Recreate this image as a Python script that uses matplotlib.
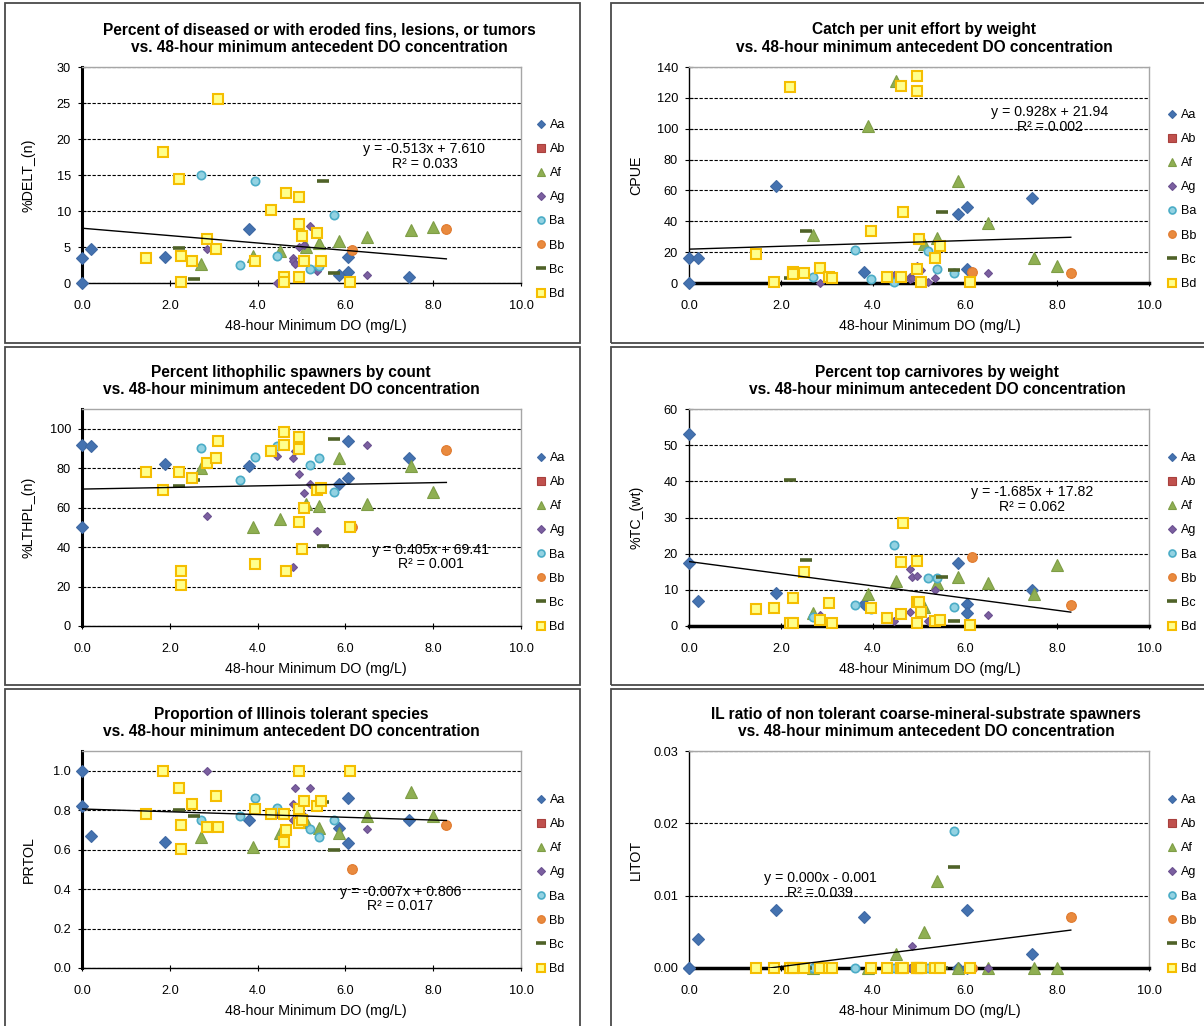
import matplotlib.pyplot as plt
from matplotlib.lines import Line2D
from matplotlib.patches import Rectangle
import numpy as np

plt.rcParams['font.family'] = ['Liberation Sans', 'DejaVu Sans']

W, H = 1204, 1026

groups = ['Aa', 'Ab', 'Af', 'Ag', 'Ba', 'Bb', 'Bc', 'Bd']

# 48-hour minimum DO (mg/L) per site group
do_x = {
    'Aa': [0.0, 0.0, 0.2, 1.9, 3.8, 5.85, 6.05, 6.05, 7.45],
    'Ab': [],
    'Af': [2.7, 3.9, 4.5, 5.1, 5.4, 5.85, 6.5, 7.5, 8.0],
    'Ag': [2.85, 4.45, 4.8, 4.8, 4.85, 4.95, 5.05, 5.2, 5.35, 6.5],
    'Ba': [2.7, 3.6, 3.95, 4.45, 5.2, 5.4, 5.75],
    'Bb': [6.15, 8.3],
    'Bc': [2.2, 2.55, 5.5, 5.75],
    'Bd': [1.45, 1.85, 2.2, 2.25, 2.25, 2.5, 2.85, 3.05, 3.1, 3.95, 4.3,
           4.6, 4.6, 4.65, 4.95, 4.95, 4.95, 5.0, 5.05, 5.35, 5.45, 6.1],
}

delt = {
    'Aa': [3.5, 0.0, 4.7, 3.6, 7.5, 1.1, 1.5, 3.6, 0.8],
    'Ab': [],
    'Af': [2.6, 3.7, 4.4, 5.0, 5.5, 5.8, 6.4, 7.4, 7.8],
    'Ag': [4.7, 0.0, 3.5, 3.1, 2.7, 5.0, 5.3, 7.9, 1.7, 1.1],
    'Ba': [15.0, 2.5, 14.2, 3.8, 2.0, 2.3, 9.4],
    'Bb': [4.6, 7.5],
    'Bc': [4.8, 0.5, 14.1, 1.4],
    'Bd': [3.5, 18.2, 14.4, 3.8, 0.1, 3.0, 6.1, 4.7, 25.5, 3.0, 10.2,
           0.9, 0.1, 12.5, 12.0, 8.2, 0.9, 6.5, 3.0, 7.0, 3.0, 0.1],
}

cpue = {
    'Aa': [16, 0, 16, 63, 7, 45, 49, 9, 55],
    'Ab': [],
    'Af': [31, 102, 131, 25, 29, 66, 39, 16, 11],
    'Ag': [0, 5, 4, 2.5, 3, 11, 8.5, 0.8, 3.3, 6.2],
    'Ba': [3.8, 21.4, 2.6, 0.9, 20.9, 8.9, 6.7],
    'Bb': [7, 6.5],
    'Bc': [3.3, 33.7, 46, 8.4],
    'Bd': [18.8, 0.5, 127, 7, 6, 6.5, 9.7, 3.8, 3.0, 33.7, 3.6,
           3.8, 127.8, 46, 134, 124.4, 9, 28.5, 0.5, 16, 24, 0.5],
}

lthpl = {
    'Aa': [92, 50, 91, 82, 81, 72, 94, 75, 85],
    'Ab': [],
    'Af': [80, 50, 54, 62, 61, 85, 62, 81, 68],
    'Ag': [56, 86, 85, 30, 88.5, 77, 67.5, 72, 48, 92],
    'Ba': [90, 74, 85.5, 91, 81.5, 85, 68],
    'Bb': [50, 89],
    'Bc': [71, 74, 40.4, 95],
    'Bd': [78, 69, 78, 28, 20.7, 75, 82.5, 85, 94, 31.6, 88.5,
           98.5, 92, 28, 96, 89.5, 52.6, 39, 60, 69, 70, 50],
}

tc_wt = {
    'Aa': [53, 17.5, 7, 9, 6, 17.5, 6, 3.5, 10],
    'Ab': [],
    'Af': [3.6, 8.8, 12.4, 5.3, 12, 13.5, 11.9, 8.8, 17],
    'Ag': [3, 1.4, 3.9, 15.7, 13.5, 13.8, 5.5, 1.4, 10, 3],
    'Ba': [2.5, 5.8, 4.6, 22.5, 13.2, 13.2, 5.3],
    'Bb': [19, 5.8],
    'Bc': [40.4, 18.2, 13.5, 1.4],
    'Bd': [4.6, 4.9, 0.9, 7.7, 0.9, 15, 1.6, 6.4, 0.9, 5.0, 2.3,
           3.3, 17.7, 28.5, 18, 6.6, 0.9, 6.6, 3.9, 1.4, 1.6, 0.3],
}

prtol = {
    'Aa': [1.0, 0.82, 0.67, 0.64, 0.75, 0.71, 0.86, 0.635, 0.75],
    'Ab': [],
    'Af': [0.665, 0.615, 0.685, 0.74, 0.71, 0.685, 0.77, 0.89, 0.77],
    'Ag': [1.0, 0.78, 0.83, 0.75, 0.91, 0.77, 0.77, 0.91, 0.84, 0.705],
    'Ba': [0.75, 0.77, 0.86, 0.81, 0.705, 0.665, 0.75],
    'Bb': [0.5, 0.725],
    'Bc': [0.80, 0.77, 0.84, 0.60],
    'Bd': [0.78, 1.0, 0.91, 0.725, 0.605, 0.83, 0.715, 0.87, 0.715, 0.805, 0.78,
           0.78, 0.64, 0.70, 1.0, 0.805, 0.735, 0.75, 0.845, 0.82, 0.845, 1.0],
}

litot = {
    'Aa': [0, 0, 0.004, 0.008, 0.007, 0, 0.008, 0, 0.002],
    'Ab': [],
    'Af': [0, 0, 0.002, 0.005, 0.012, 0, 0, 0, 0],
    'Ag': [0, 0, 0, 0, 0.003, 0, 0, 0, 0, 0],
    'Ba': [0, 0, 0, 0, 0, 0, 0.019],
    'Bb': [0, 0.007],
    'Bc': [0, 0, 0, 0.014],
    'Bd': [0] * 22,
}

# trendline coefficients as reported (litot shown rounded on chart)
slopes = [-0.513, 0.928, 0.405, -1.685, -0.007, 0.0008]
intercepts = [7.610, 21.94, 69.41, 17.82, 0.806, -0.0014]
eq_text = ['y = -0.513x + 7.610\nR² = 0.033',
           'y = 0.928x + 21.94\nR² = 0.002',
           'y = 0.405x + 69.41\nR² = 0.001',
           'y = -1.685x + 17.82\nR² = 0.062',
           'y = -0.007x + 0.806\nR² = 0.017',
           'y = 0.000x - 0.001\nR² = 0.039']

titles = [
    ['Percent of diseased or with eroded fins, lesions, or tumors',
     'vs. 48-hour minimum antecedent DO concentration'],
    ['Catch per unit effort by weight',
     'vs. 48-hour minimum antecedent DO concentration'],
    ['Percent lithophilic spawners by count',
     'vs. 48-hour minimum antecedent DO concentration'],
    ['Percent top carnivores by weight',
     'vs. 48-hour minimum antecedent DO concentration'],
    ['Proportion of Illinois tolerant species',
     'vs. 48-hour minimum antecedent DO concentration'],
    ['IL ratio of non tolerant coarse-mineral-substrate spawners',
     'vs. 48-hour minimum antecedent DO concentration'],
]
ylabels = ['%DELT_(n)', 'CPUE', '%LTHPL_(n)', '%TC_(wt)', 'PRTOL', 'LITOT']
metrics = [delt, cpue, lthpl, tc_wt, prtol, litot]
ylims = [(0, 30, 5), (0, 140, 20), (0, 110, 20), (0, 60, 10), (0, 1.1, 0.2), (0, 0.03, 0.01)]
yfmts = ['{:.0f}', '{:.0f}', '{:.0f}', '{:.0f}', '{:.1f}', '{:.2f}']
xlabel = '48-hour Minimum DO (mg/L)'

# styles
style = {
    'Aa': dict(marker='D', ms=6, mfc='#4472B0', mec='#3F69A3', mew=0.8),
    'Ab': dict(marker='s', ms=6, mfc='#C0504D', mec='#A8403D', mew=0.8),
    'Af': dict(marker='^', ms=9, mfc='#8FAF52', mec='#7E9D46', mew=0.8),
    'Ag': dict(marker='D', ms=4.3, mfc='#7B5FA0', mec='#6C5290', mew=0.8),
    'Ba': dict(marker='o', ms=6, mfc='#93D2E2', mec='#4BACC6', mew=1.2),
    'Bb': dict(marker='o', ms=7, mfc='#E98A3E', mec='#E07A2E', mew=0.8),
    'Bc': dict(marker='_', ms=8.4, mfc='#4F6228', mec='#4F6228', mew=2.6),
    'Bd': dict(marker='s', ms=6.5, mfc='#FFFF8C', mec='#F5BE00', mew=1.5),
}
legend_ms = {'Aa': 3.8, 'Ab': 5.5, 'Af': 6, 'Ag': 3.8, 'Ba': 5, 'Bb': 5.5, 'Bc': 6.5, 'Bd': 5.5}

# layout (pixels)
col_x = [(82, 521), (689, 1149)]
row_y = [(67, 283), (409, 626), (751, 968)]
title_y = [(30, 47), (372, 389), (714, 732)]
title_cx = [319, 924, 291, 937, 291, 926]
legend_top = [124, 114, 457, 457, 799, 799]
legend_mx = [542, 1173]
eq_pos = [(7.8, 17.6), (7.85, 106), (7.95, 35), (7.45, 35), (7.25, 0.35), (2.85, 0.0114)]
xlabel_cx = [0.533, 0.524]

fs_tick = 9.2
fs_label = 10.3
fs_eq = 10.2
fs_leg = 9.0
fs_title = 11.2

fig = plt.figure(figsize=(W / 100, H / 100), dpi=100)


def fx(px):
    return px / W


def fy(py):
    return 1 - py / H


# chart frames
for (x0, x1) in [(5, 580), (611, 1240)]:
    for (y0, y1) in [(3, 343), (347, 685), (689, 1060)]:
        fig.add_artist(Rectangle((fx(x0), fy(y1)), fx(x1) - fx(x0), fy(y0) - fy(y1),
                                 transform=fig.transFigure, fill=False,
                                 ec='#4a4a4a', lw=1.3))

for i in range(6):
    col, row = i % 2, i // 2
    (ax0, ax1), (ay0, ay1) = col_x[col], row_y[row]
    ax = fig.add_axes([fx(ax0), fy(ay1), fx(ax1) - fx(ax0), fy(ay0) - fy(ay1)])
    data = metrics[i]

    for g in groups:
        ax.plot(do_x[g], data[g], ls='none', clip_on=False, zorder=3, **style[g])

    # trendline over the data range
    allx = [v for g in groups for v in do_x[g]]
    tx = np.array([min(allx), max(allx)])
    ax.plot(tx, slopes[i] * tx + intercepts[i], color='black', lw=1.0, zorder=5)

    ex, ey = eq_pos[i]
    ax.text(ex, ey, eq_text[i], ha='center', va='center', fontsize=fs_eq,
            linespacing=1.05, zorder=6)

    lo, hi, step = ylims[i]
    ax.set_xlim(0, 10)
    ax.set_ylim(lo, hi)
    xt = np.arange(0, 10.01, 2)
    yt = np.arange(lo, hi + 1e-9, step)
    ax.set_xticks(xt)
    ax.set_xticklabels(['{:.1f}'.format(v) for v in xt], fontsize=fs_tick)
    ax.set_yticks(yt)
    ax.set_yticklabels([yfmts[i].format(v) for v in yt], fontsize=fs_tick)
    ax.tick_params(axis='x', direction='inout', length=5, width=0.8, pad=9.5)
    ax.tick_params(axis='y', direction='inout', length=6, width=0.8, pad=5)

    ax.yaxis.grid(True, color='black', ls=(0, (3, 1.5)), lw=0.8)
    ax.set_axisbelow(True)

    for side in ['top', 'right']:
        ax.spines[side].set_color('#A6A6A6')
        ax.spines[side].set_linewidth(1.0)
    if col == 0:
        ax.spines['left'].set_linewidth(2.2)
        ax.spines['bottom'].set_linewidth(1.0)
    else:
        ax.spines['left'].set_linewidth(1.0)
        ax.spines['bottom'].set_linewidth(2.5)
    ax.spines['left'].set_color('black')
    ax.spines['bottom'].set_color('black')

    ax.set_ylabel(ylabels[i], fontsize=fs_label)
    ax.yaxis.set_label_coords(-46 / (ax1 - ax0), 0.5)
    ax.set_xlabel(xlabel, fontsize=fs_label)
    ax.xaxis.set_label_coords(xlabel_cx[col], -36 / (ay1 - ay0))

    for k, line in enumerate(titles[i]):
        fig.text(fx(title_cx[i]), fy(title_y[row][k]), line, ha='center', va='center',
                 fontsize=fs_title, fontweight='bold')

    handles = []
    for g in groups:
        st = dict(style[g])
        st['ms'] = legend_ms[g]
        handles.append(Line2D([], [], ls='none', **st))
    mx = legend_mx[col]
    fig.legend(handles, groups, loc='upper left', frameon=False, fontsize=fs_leg,
               bbox_to_anchor=(fx(mx - 5), fy(legend_top[i] - 5)),
               bbox_transform=fig.transFigure, borderpad=0, borderaxespad=0,
               handlelength=0.7, handletextpad=0.3, labelspacing=0.97)

fig.savefig('out.png', dpi=100)
